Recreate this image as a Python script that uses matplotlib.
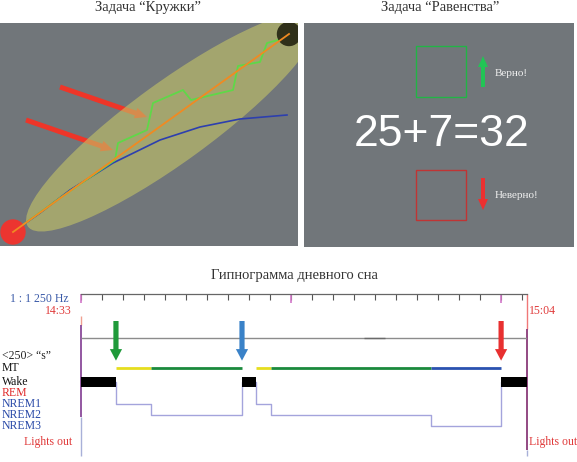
import numpy as np
import matplotlib
matplotlib.use("Agg")
import matplotlib.pyplot as plt
from matplotlib.patches import Ellipse, Circle, Rectangle, FancyArrow

# --- "Кружки" panel (screen coordinates of the task picture) ---
start_xy = (13, 14)
target_xy = (289, 212)
zone_center = (172, 124)
zone_size = (356, 80)
zone_angle = 36
blue_path_x = [13, 40, 70, 113, 160, 200, 240, 287]
blue_path_y = [14, 33, 56, 83, 106, 119, 127, 131]
green_path_x = [13, 60, 115, 118, 147, 153, 183, 191, 233, 238, 260, 267, 282, 289]
green_path_y = [14, 48, 86, 103, 116, 143, 156, 146, 156, 180, 184, 203, 207, 212]
pointer_starts = [(60, 159), (26, 126)]
pointer_ends = [(147, 129), (113, 96)]

# --- "Равенства" panel ---
equation = "25+7=32"
answers = ["Верно!", "Неверно!"]

# --- hypnogram (minutes from 14:33) ---
t_total = 31.0
tick_step = 1.46
stage_levels = {"Wake": 0, "REM": -1, "NREM1": -2, "NREM2": -3, "NREM3": -4}
stage_start = [0, 2.43, 4.87, 11.19, 12.16, 13.21, 24.33, 29.2]
stage_name = ["Wake", "NREM1", "NREM2", "Wake", "NREM1", "NREM2", "NREM3", "Wake"]
sleep_colors = {"NREM1": "#e6de1e", "NREM2": "#1a8a3c", "NREM3": "#2a52b0"}
probe_times = [2.43, 11.19, 29.2]
probe_colors = ["#1f9a3a", "#3a82c8", "#e83030"]

W, H = 577, 462
fig = plt.figure(figsize=(W / 100, H / 100), dpi=100)


def px_axes(x0, y0, x1, y1):
    return fig.add_axes([x0 / W, 1 - y1 / H, (x1 - x0) / W, (y1 - y0) / H])


bg = "#71767a"
serif = "Liberation Serif"

# ----- left picture -----
ax1 = px_axes(0, 23, 298, 246)
ax1.set_xlim(0, 298)
ax1.set_ylim(0, 223)
ax1.set_facecolor(bg)
ax1.set_xticks([])
ax1.set_yticks([])
for s in ax1.spines.values():
    s.set_visible(False)

for (x0, y0), (x1, y1) in zip(pointer_starts, pointer_ends):
    ax1.add_patch(FancyArrow(x0, y0, x1 - x0, y1 - y0, width=5, head_width=11,
                             head_length=12, length_includes_head=True,
                             color="#ee3528", lw=0, zorder=1))
ax1.add_patch(Ellipse(zone_center, zone_size[0], zone_size[1], angle=zone_angle,
                      color="#c6c666", alpha=0.6, lw=0, zorder=3))
ax1.plot(blue_path_x, blue_path_y, color="#2d3fae", lw=1.2, zorder=4)
ax1.plot(green_path_x, green_path_y, color="#5fd848", lw=1.3, zorder=4)
ax1.add_patch(Circle(target_xy, 11.5, color="#30301a", zorder=5))
ax1.add_patch(Circle(start_xy, 12, color="#ec3530", zorder=5))
ax1.plot([start_xy[0], target_xy[0]], [start_xy[1], target_xy[1]],
         color="#f08a22", lw=1.3, zorder=6)

# ----- right picture -----
ax2 = px_axes(304, 23, 574, 247)
ax2.set_xlim(0, 270)
ax2.set_ylim(0, 224)
ax2.set_facecolor(bg)
ax2.set_xticks([])
ax2.set_yticks([])
for s in ax2.spines.values():
    s.set_visible(False)

ax2.add_patch(Rectangle((112, 150), 50, 51, fill=False, ec="#22b446", lw=1))
ax2.add_patch(Rectangle((112, 27), 50, 50, fill=False, ec="#c03434", lw=1))
ax2.add_patch(FancyArrow(179, 160, 0, 31, width=4, head_width=10, head_length=11,
                         length_includes_head=True, color="#22c455", lw=0))
ax2.add_patch(FancyArrow(179, 69, 0, -32, width=4, head_width=10, head_length=11,
                         length_includes_head=True, color="#ec3030", lw=0))
ax2.text(138, 112, equation, color="white", fontsize=32, ha="center", va="center",
         family="Liberation Sans")
ax2.text(191, 174, answers[0], color="#f0f0f0", fontsize=8, va="center", family=serif)
ax2.text(191, 52, answers[1], color="#f0f0f0", fontsize=8, va="center", family=serif)

fig.text(148 / W, 1 - 8 / H, "Задача “Кружки”", ha="center", va="center",
         fontsize=10.5, family=serif, color="#333333")
fig.text(440 / W, 1 - 8 / H, "Задача “Равенства”", ha="center", va="center",
         fontsize=10.5, family=serif, color="#333333")
fig.text(294 / W, 1 - 275 / H, "Гипнограмма дневного сна", ha="center", va="center",
         fontsize=10.5, family=serif, color="#333333")

# ----- hypnogram -----
ax3 = px_axes(81, 294, 527, 456)
ax3.set_xlim(0, t_total)
ax3.set_ylim(-6.7, 8)
for k in ["left", "right", "bottom"]:
    ax3.spines[k].set_visible(False)
ax3.spines["top"].set_color("#666666")
ax3.spines["top"].set_linewidth(0.9)
ax3.xaxis.set_ticks_position("top")
ax3.set_xticks(np.arange(0, t_total, tick_step))
ax3.tick_params(axis="x", direction="in", length=4, color="#555555", labeltop=False)
ax3.set_yticks([])
ax3.vlines([0, 10 * tick_step, 20 * tick_step], 7.2, 8, color="#d277c8", lw=1.2)

# borders
ax3.vlines(0, 5.2, 6.0, color="#f0a090", lw=1)
ax3.vlines(0, -3.2, 5.2, color="#8a4a9a", lw=1.3)
ax3.vlines(0, -6.7, -3.2, color="#a8b0d8", lw=1)
ax3.vlines(t_total, 4.8, 8, color="#f07878", lw=1)
ax3.vlines(t_total, -6.2, 4.8, color="#8a3a7a", lw=1.3)
ax3.vlines(t_total, -6.7, -6.2, color="#a8b0d8", lw=1)
for ln in ax3.collections:
    ln.set_clip_on(False)

ax3.hlines(4, 0, t_total, color="#8c8c8c", lw=1)
ax3.hlines(4, 19.7, 21.1, color="#6a6a6a", lw=1)

# hypnogram step line
ends = stage_start[1:] + [t_total]
levels = [stage_levels[s] for s in stage_name]
ax3.step(stage_start + [t_total], levels + [levels[-1]], where="post",
         color="#a4a4dc", lw=1)
for s0, s1, name in zip(stage_start, ends, stage_name):
    if name == "Wake":
        ax3.add_patch(Rectangle((s0, -0.45), s1 - s0, 0.9, color="black", lw=0, zorder=3))
    else:
        ax3.hlines(1.3, s0, s1, color=sleep_colors[name], lw=2)

for t, c in zip(probe_times, probe_colors):
    ax3.add_patch(FancyArrow(t, 5.55, 0, -3.6, width=0.36, head_width=0.85,
                             head_length=1.05, length_includes_head=True, color=c, lw=0,
                             zorder=4))

lab = dict(family=serif, fontsize=8.5, va="center", clip_on=False)
ax3.text(-4.93, 7.55, "1 : 1 250 Hz", color="#3a5aa8", **lab)
ax3.text(-0.63, 6.45, "14:33", color="#e03a3a", ha="right", **lab)
ax3.text(-5.49, 2.36, "<250> “s”", color="#222222", **lab)
ax3.text(-5.49, 1.27, "MT", color="#111111", **lab)
ax3.text(-5.49, 0, "Wake", color="#111111", **lab)
ax3.text(-5.49, -1, "REM", color="#e02828", **lab)
for name in ["NREM1", "NREM2", "NREM3"]:
    ax3.text(-5.49, stage_levels[name], name, color="#2a4aa8", **lab)
ax3.text(-0.63, -5.45, "Lights out", color="#e03a3a", ha="right", **lab)
ax3.text(31.14, 6.45, "15:04", color="#e03a3a", **lab)
ax3.text(31.14, -5.45, "Lights out", color="#e03a3a", **lab)

fig.savefig("out.png", dpi=100)
